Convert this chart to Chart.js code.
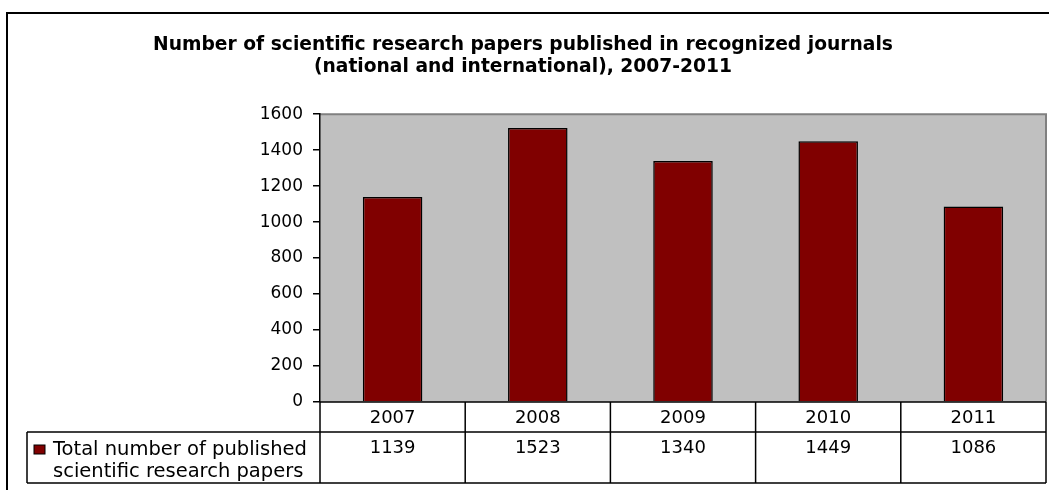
<!DOCTYPE html>
<html>
<head>
<meta charset="utf-8">
<script src="https://cdn.jsdelivr.net/npm/chart.js@4/dist/chart.umd.min.js"></script>
<style>
    html, body { margin: 0; padding: 0; background: #fff; }
    #wrap { width: 1049px; height: 490px; }
</style>
</head>
<body>
<div id="wrap"><canvas id="paperChart"></canvas></div>
<script>
// Chart data
const years = ['2007', '2008', '2009', '2010', '2011'];
const papers = [1139, 1523, 1340, 1449, 1086];
const legendLines = ['Total number of published', 'scientific research papers'];
const titleLines = [
    'Number of scientific research papers published in recognized journals',
    '(national and international), 2007-2011'
];
const yMax = 1600;
const yStep = 200;

const FONT = '"DejaVu Sans", Arial, sans-serif';


// Grey plot background, outer frame and the data table under the axis
const excelLook = {
    id: 'excelLook',
    beforeDraw(chart) {
        const { ctx, chartArea: a } = chart;
        ctx.save();
        // outer frame
        ctx.strokeStyle = '#000';
        ctx.lineWidth = 2;
        ctx.strokeRect(7, 13, 1200, 800);
        // plot area
        ctx.fillStyle = '#c0c0c0';
        ctx.fillRect(a.left, a.top, a.right - a.left, a.bottom - a.top);
        ctx.strokeStyle = '#808080';
        ctx.lineWidth = 2;
        ctx.beginPath();
        ctx.moveTo(a.left, a.top);
        ctx.lineTo(a.right, a.top);
        ctx.lineTo(a.right, a.bottom);
        ctx.stroke();
        ctx.restore();
    },
    afterDraw(chart) {
        const { ctx, chartArea: a } = chart;
        const x = chart.scales.x;
        const ds = chart.data.datasets[0];
        const half = (x.getPixelForValue(1) - x.getPixelForValue(0)) / 2;
        const row1 = a.bottom + 30;
        const row2 = row1 + 51;
        const legendLeft = 27;

        ctx.save();
        ctx.strokeStyle = '#000';
        ctx.lineWidth = 1.5;
        ctx.beginPath();
        // horizontal lines
        ctx.moveTo(a.left, a.bottom); ctx.lineTo(a.right, a.bottom);
        ctx.moveTo(legendLeft, row1); ctx.lineTo(a.right, row1);
        ctx.moveTo(legendLeft, row2); ctx.lineTo(a.right, row2);
        ctx.moveTo(legendLeft, row1); ctx.lineTo(legendLeft, row2);
        // vertical separators
        for (let i = 0; i <= chart.data.labels.length; i++) {
            const px = i < chart.data.labels.length
                ? x.getPixelForValue(i) - half
                : x.getPixelForValue(i - 1) + half;
            ctx.moveTo(px, a.bottom);
            ctx.lineTo(px, row2);
        }
        ctx.stroke();

        // category and value texts
        ctx.fillStyle = '#000';
        ctx.font = '18px ' + FONT;
        ctx.textAlign = 'center';
        ctx.textBaseline = 'middle';
        chart.data.labels.forEach((lab, i) => {
            const px = x.getPixelForValue(i);
            ctx.fillText(lab, px, (a.bottom + row1) / 2 + 1);
            ctx.fillText(String(ds.data[i]), px, row1 + 16);
        });

        // legend key
        ctx.fillStyle = ds.backgroundColor;
        ctx.fillRect(34, row1 + 13, 11, 9);
        ctx.strokeStyle = '#000';
        ctx.lineWidth = 1;
        ctx.strokeRect(34, row1 + 13, 11, 9);
        ctx.fillStyle = '#000';
        ctx.textAlign = 'left';
        ctx.font = '19.5px ' + FONT;
        ctx.fillText(legendLines[0], 53, row1 + 18);
        ctx.fillText(legendLines[1], 53, row1 + 40);
        ctx.restore();
    }
};


const paperChart = new Chart(
    document.getElementById('paperChart').getContext('2d'),
    {
        type: 'bar',
        data: {
            labels: years,
            datasets: [{
                label: legendLines.join(' '),
                data: papers,
                backgroundColor: '#800000',
                borderColor: '#000',
                borderWidth: 1.5,
                barPercentage: 0.41,
                categoryPercentage: 1
            }]
        },
        options: {
            responsive: true,
            maintainAspectRatio: false,
            animation: false,
            layout: { padding: { top: 0, right: 3, bottom: 88, left: 0 } },
            scales: {
                x: { display: false },
                y: {
                    min: 0,
                    max: yMax,
                    afterFit: scale => { scale.width = 320; },
                    ticks: {
                        stepSize: yStep,
                        color: '#000',
                        padding: 10,
                        font: { family: FONT, size: 17 },
                        callback: v => String(v)
                    },
                    grid: {
                        drawOnChartArea: false,
                        drawTicks: true,
                        tickLength: 7,
                        color: '#000',
                        lineWidth: 1.5
                    },
                    border: { color: '#000', width: 1.5 }
                }
            },
            plugins: {
                legend: { display: false },
                tooltip: { enabled: false },
                title: {
                    display: true,
                    text: titleLines,
                    color: '#000',
                    font: { family: FONT, size: 18.7, weight: 'bold', lineHeight: 1.18 },
                    padding: { top: 34, bottom: 36 }
                }
            }
        },
        plugins: [excelLook]
    }
);
</script>
</body>
</html>
